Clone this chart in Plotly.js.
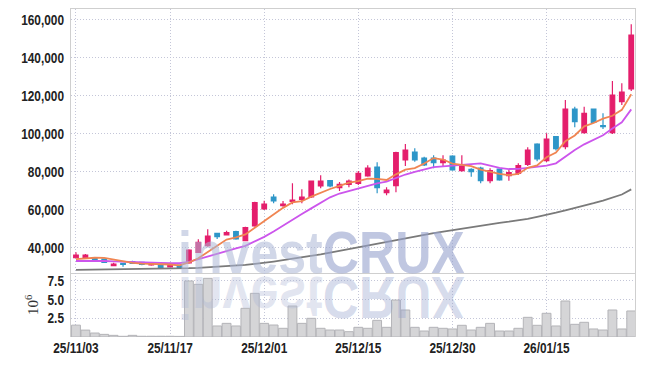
<!DOCTYPE html>
<html>
<head>
<meta charset="utf-8">
<script src="https://cdn.plot.ly/plotly-3.0.1.min.js"></script>
<style>
html,body{margin:0;padding:0;background:#fff;}
#wrap{position:relative;width:645px;height:366px;}
#chart{position:absolute;left:0;top:0;width:645px;height:366px;}
#wm{position:absolute;left:0;top:0;pointer-events:none;z-index:10;}
</style>
</head>
<body>
<div id="wrap">
<div id="chart"></div>
<svg id="wm" width="645" height="366">
  <g font-family="Liberation Sans, Arial, sans-serif" font-weight="bold" font-size="60">
    <text x="0" y="273" transform="translate(178,0) scale(0.835,1)" fill="rgba(172,182,213,0.55)">invest<tspan fill="rgba(150,162,205,0.6)">CRUX</tspan></text>
    <text x="0" y="273" transform="translate(178,550) scale(0.835,-1)" fill="rgba(172,182,213,0.35)">invest<tspan fill="rgba(150,162,205,0.38)">CRUX</tspan></text>
  </g>
</svg>
</div>
<script>
const dates = ["25/11/03","25/11/04","25/11/05","25/11/06","25/11/07","25/11/10","25/11/11","25/11/12","25/11/13","25/11/14",
"25/11/17","25/11/18","25/11/19","25/11/20","25/11/21","25/11/24","25/11/25","25/11/26","25/11/27","25/11/28",
"25/12/01","25/12/02","25/12/03","25/12/04","25/12/05","25/12/08","25/12/09","25/12/10","25/12/11","25/12/12",
"25/12/15","25/12/16","25/12/17","25/12/18","25/12/19","25/12/22","25/12/23","25/12/24","25/12/26","25/12/29",
"25/12/30","26/01/02","26/01/05","26/01/06","26/01/07","26/01/08","26/01/09","26/01/12","26/01/13","26/01/14",
"26/01/15","26/01/16","26/01/19","26/01/20","26/01/21","26/01/22","26/01/23","26/01/26","26/01/27","26/01/28"];

const opens = [34500,34500,34200,33840,30300,31580,32420,32100,30690,30690,
29630,30690,31800,37370,40840,47370,46470,48210,43470,51210,
60160,66470,61900,64210,65260,66470,72260,75050,71370,73160,
73680,77530,82260,68740,72420,85950,90160,87000,87000,84530,
88050,80320,81050,81740,75050,81210,77680,78950,83680,94370,
85580,98210,92950,112790,100320,112790,104000,100320,116630,123320];

const highs = [37400,36500,34700,34100,31900,31700,32900,32300,32100,30840,
31900,30900,38950,44210,49470,47700,48740,48740,50840,64000,
64530,67900,64370,73680,70530,75200,77890,75400,74370,75700,
80160,83160,84740,71580,90320,94370,92100,87680,88420,88420,
88400,88420,81580,82420,81580,81500,80680,84210,92630,94740,
100000,98500,117520,114000,114000,113000,110530,127520,126320,157370];

const lows = [34300,34300,32400,31740,30150,29790,31300,30520,30300,29300,
29470,29300,31300,37160,40300,44370,46200,44000,43160,50800,
59630,63160,61370,62630,63160,66000,71050,71600,69630,71600,
72790,77160,68420,67370,68950,82790,85050,82790,81580,82790,
80300,79790,77160,73680,73680,75000,75050,78050,82790,85260,
84900,91000,91580,103160,99800,105500,102260,99630,114890,122260];

const closes = [35950,35900,32950,32100,31200,31050,31580,31050,31580,29470,
31050,29470,38580,42630,45950,45580,47680,44370,50320,63470,
62790,64370,62790,64900,66470,74890,74890,72260,73160,74890,
78950,81740,71370,70160,89790,91210,85950,83320,84530,85950,
80680,82790,79790,75050,80320,75420,79260,82950,91210,86470,
96950,91900,112790,106100,110530,105790,103500,120160,121740,151740];

// volume, millions of shares
const volumes = [1.58,0.92,0.53,0.35,0.22,0.09,0.22,0.10,0.10,0.10,
0.10,0.08,7.47,7.02,7.82,1.47,1.82,1.47,3.82,5.82,
1.82,1.60,1.16,4.13,1.82,2.49,1.16,0.93,0.93,0.71,
1.29,1.16,2.22,1.29,4.93,3.60,1.29,0.80,1.29,1.16,
1.07,1.56,0.93,1.29,1.82,0.80,0.80,1.16,2.62,1.56,
3.16,1.47,4.80,1.69,1.96,1.07,0.93,3.60,1.07,3.47];

const ma5 = [33800,34100,34500,34400,33620,32640,31780,31400,31290,30950,
30950,30520,32030,34240,37540,40440,44080,45240,46780,50280,
53730,57060,60750,63660,64260,66680,68790,70680,72330,74020,
74830,76200,76020,75420,78400,80850,81700,84090,86960,86190,
84090,83450,82750,80850,79730,78670,77970,78600,81830,83060,
87370,89900,95860,98840,103650,105420,107740,109220,112340,120590];

const ma20 = [32800,32900,32900,32800,32600,32500,32400,32300,32200,31800,
31600,31700,32300,33800,35300,36800,38200,39400,40800,43000,
45500,48300,51500,54500,57500,60500,63500,66300,68300,69700,
71000,72600,73700,74600,76500,78300,79700,80900,82200,82600,
83000,83400,83800,84200,83000,81800,81200,81300,81800,82300,
83000,84200,87700,91200,94200,96500,99000,102500,105800,112600];

const ma60 = [28100,28150,28200,28250,28300,28350,28400,28500,28550,28600,
28700,28800,29000,29200,29450,29700,30000,30400,30800,31300,
31800,32500,33200,33900,34600,35400,36300,37200,38100,39000,
40000,40900,41800,42700,43700,44600,45600,46500,47500,48300,
49200,50000,50800,51500,52200,52900,53500,54200,55000,56000,
57000,58200,59500,60600,61800,63200,64600,66200,67800,70500];

const tickDates = ["25/11/03","25/11/17","25/12/01","25/12/15","25/12/30","26/01/15"];

const PINK = '#e41e6c', BLUE = '#2e96c8';
const lab = {family:'Liberation Sans, Arial, sans-serif', size:15, color:'#222', weight:'bold'};
const gridc = '#c4c6d8';
const gdash = '1px,2px';

const traces = [
  {type:'scatter', mode:'lines', x:dates, y:ma60, xaxis:'x', yaxis:'y',
   line:{color:'#7a7a7a', width:1.8}, hoverinfo:'skip'},
  {type:'candlestick', x:dates, open:opens, high:highs, low:lows, close:closes, xaxis:'x', yaxis:'y',
   increasing:{line:{color:PINK, width:1.2}, fillcolor:PINK},
   decreasing:{line:{color:BLUE, width:1.2}, fillcolor:BLUE},
   whiskerwidth:0},
  {type:'scatter', mode:'lines', x:dates, y:ma20, xaxis:'x', yaxis:'y',
   line:{color:'#cc55ec', width:1.8}, hoverinfo:'skip'},
  {type:'scatter', mode:'lines', x:dates, y:ma5, xaxis:'x', yaxis:'y',
   line:{color:'#f08552', width:1.8}, hoverinfo:'skip'},
  {type:'bar', x:dates, y:volumes, xaxis:'x2', yaxis:'y2',
   marker:{color:'#d5d5d7', line:{color:'#b4b4b8', width:1}}}
];

const xcommon = {
  type:'category', categoryorder:'array', categoryarray:dates,
  range:[-0.53, 59.4], tickmode:'array', tickvals:tickDates, ticktext:tickDates,
  showgrid:true, gridcolor:gridc, griddash:gdash, gridwidth:1,
  zeroline:false, ticks:'', fixedrange:true
};

const layout = {
  width:645, height:366,
  margin:{l:71, r:10, t:9, b:29},
  paper_bgcolor:'#fff', plot_bgcolor:'#fff',
  showlegend:false, bargap:0.06,
  xaxis:Object.assign({}, xcommon, {anchor:'y', showticklabels:false, showline:true, mirror:true,
    linecolor:'#cfcfcf', linewidth:1, rangeslider:{visible:false}}),
  xaxis2:Object.assign({}, xcommon, {anchor:'y2', matches:'x', showticklabels:true, showline:false,
    tickfont:lab}),
  yaxis:{domain:[0.196,1], range:[26630,165420], tickvals:[40000,60000,80000,100000,120000,140000,160000],
    tickformat:',d', tickfont:lab, showgrid:true, gridcolor:gridc, griddash:gdash, ticklabelstandoff:3,
    showline:true, mirror:true, linecolor:'#cfcfcf', zeroline:false, ticks:''},
  yaxis2:{domain:[0,0.196], range:[0,8.57], tickvals:[2.5,5,7.5], tickformat:'.1f', tickfont:lab,
    showgrid:true, gridcolor:gridc, griddash:gdash, ticklabelstandoff:3,
    showline:true, mirror:true, linecolor:'#cfcfcf', zeroline:false, ticks:'',
    title:{text:'10<sup>6</sup>', font:{family:'Liberation Serif, serif', size:15, color:'#333'}, standoff:0}}
};

Plotly.newPlot('chart', traces, layout, {displayModeBar:false, staticPlot:true}).then(function(){
  // condense tick labels horizontally around their anchor point
  const s = 0.79;
  document.querySelectorAll('g.xtick > text, g.x2tick > text, g.ytick > text, g.y2tick > text').forEach(function(t){
    const x = parseFloat(t.getAttribute('x')) || 0;
    const old = t.getAttribute('transform') || '';
    t.setAttribute('transform', 'translate(' + (x*(1-s)) + ',0) ' + old + ' scale(' + s + ',1)');
  });
});
</script>
</body>
</html>
